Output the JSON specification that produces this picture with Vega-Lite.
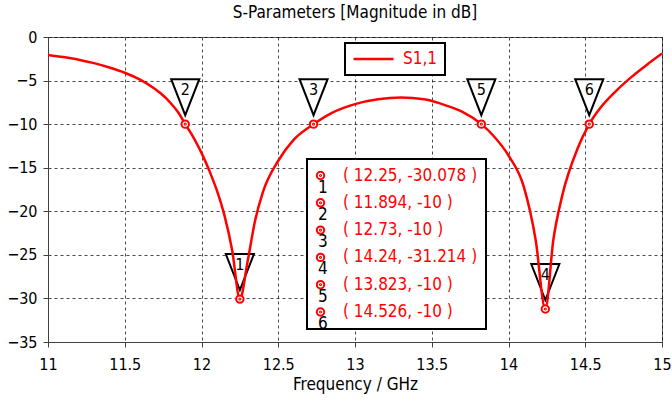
{
  "$schema": "https://vega.github.io/schema/vega-lite/v6.json",
  "width": 614,
  "height": 305,
  "autosize": "none",
  "padding": {"left": 48, "top": 37, "right": 10, "bottom": 61},
  "background": "white",
  "title": {"text": "S-Parameters [Magnitude in dB]", "font": "DejaVu Sans Condensed, Liberation Sans", "fontSize": 17, "fontWeight": "normal", "color": "#000", "offset": 7, "anchor": "middle"},
  "config": {
    "view": {"stroke": "#606060", "strokeWidth": 1},
    "axis": {
      "labelFont": "DejaVu Sans Condensed, Liberation Sans", "labelFontSize": 16, "labelColor": "#000",
      "titleFont": "DejaVu Sans Condensed, Liberation Sans", "titleFontSize": 17, "titleFontWeight": "normal", "titleColor": "#000",
      "domainColor": "#404040", "tickColor": "#404040", "tickSize": 5,
      "gridColor": "#000", "gridDash": [3, 3], "gridOpacity": 0.7, "gridWidth": 1
    },
    "legend": {"strokeWidth": 2, "labelFont": "DejaVu Sans Condensed, Liberation Sans"}
  },
  "datasets": {
    "curve": [
      {"f": 11.0, "s11": -2.05, "series": "S1,1"},
      {"f": 11.1, "s11": -2.3, "series": "S1,1"},
      {"f": 11.2, "s11": -2.6, "series": "S1,1"},
      {"f": 11.3, "s11": -3.0, "series": "S1,1"},
      {"f": 11.4, "s11": -3.5, "series": "S1,1"},
      {"f": 11.5, "s11": -4.1, "series": "S1,1"},
      {"f": 11.6, "s11": -4.9, "series": "S1,1"},
      {"f": 11.7, "s11": -6.0, "series": "S1,1"},
      {"f": 11.73, "s11": -6.4, "series": "S1,1"},
      {"f": 11.8, "s11": -7.6, "series": "S1,1"},
      {"f": 11.85, "s11": -8.7, "series": "S1,1"},
      {"f": 11.894, "s11": -10.0, "series": "S1,1"},
      {"f": 11.95, "s11": -11.6, "series": "S1,1"},
      {"f": 12.0, "s11": -13.3, "series": "S1,1"},
      {"f": 12.05, "s11": -15.3, "series": "S1,1"},
      {"f": 12.1, "s11": -17.6, "series": "S1,1"},
      {"f": 12.15, "s11": -20.5, "series": "S1,1"},
      {"f": 12.2, "s11": -24.5, "series": "S1,1"},
      {"f": 12.25, "s11": -30.078, "series": "S1,1"},
      {"f": 12.3, "s11": -25.8, "series": "S1,1"},
      {"f": 12.35, "s11": -21.0, "series": "S1,1"},
      {"f": 12.4, "s11": -17.8, "series": "S1,1"},
      {"f": 12.5, "s11": -14.2, "series": "S1,1"},
      {"f": 12.6, "s11": -11.8, "series": "S1,1"},
      {"f": 12.73, "s11": -10.0, "series": "S1,1"},
      {"f": 12.85, "s11": -8.7, "series": "S1,1"},
      {"f": 13.0, "s11": -7.7, "series": "S1,1"},
      {"f": 13.15, "s11": -7.15, "series": "S1,1"},
      {"f": 13.3, "s11": -6.95, "series": "S1,1"},
      {"f": 13.45, "s11": -7.15, "series": "S1,1"},
      {"f": 13.6, "s11": -7.9, "series": "S1,1"},
      {"f": 13.7, "s11": -8.6, "series": "S1,1"},
      {"f": 13.823, "s11": -10.0, "series": "S1,1"},
      {"f": 13.9, "s11": -11.3, "series": "S1,1"},
      {"f": 14.0, "s11": -13.6, "series": "S1,1"},
      {"f": 14.1, "s11": -17.2, "series": "S1,1"},
      {"f": 14.177, "s11": -23.3, "series": "S1,1"},
      {"f": 14.24, "s11": -31.214, "series": "S1,1"},
      {"f": 14.292, "s11": -23.3, "series": "S1,1"},
      {"f": 14.35, "s11": -18.2, "series": "S1,1"},
      {"f": 14.45, "s11": -12.8, "series": "S1,1"},
      {"f": 14.526, "s11": -10.0, "series": "S1,1"},
      {"f": 14.6, "s11": -8.1, "series": "S1,1"},
      {"f": 14.7, "s11": -6.2, "series": "S1,1"},
      {"f": 14.8, "s11": -4.6, "series": "S1,1"},
      {"f": 14.9, "s11": -3.2, "series": "S1,1"},
      {"f": 15.0, "s11": -1.9, "series": "S1,1"}
    ],
    "markers": [
      {"id": 1, "f": 12.25, "s11": -30.078, "coord": "( 12.25, -30.078 )"},
      {"id": 2, "f": 11.894, "s11": -10, "coord": "( 11.894, -10 )"},
      {"id": 3, "f": 12.73, "s11": -10, "coord": "( 12.73, -10 )"},
      {"id": 4, "f": 14.24, "s11": -31.214, "coord": "( 14.24, -31.214 )"},
      {"id": 5, "f": 13.823, "s11": -10, "coord": "( 13.823, -10 )"},
      {"id": 6, "f": 14.526, "s11": -10, "coord": "( 14.526, -10 )"}
    ]
  },
  "layer": [
    {
      "data": {"name": "markers"},
      "mark": {"type": "point", "shape": "M-0.78,-1L0.78,-1L0,1Z", "size": 1296, "yOffset": -27, "stroke": "#000", "strokeWidth": 2, "fill": "#fff", "fillOpacity": 1, "filled": true, "opacity": 1},
      "encoding": {
        "x": {"field": "f", "type": "quantitative", "scale": {"domain": [11, 15], "nice": false, "zero": false},
          "axis": {"values": [11, 11.5, 12, 12.5, 13, 13.5, 14, 14.5, 15], "format": "~g", "title": "Frequency / GHz", "labelPadding": 9, "titlePadding": 4, "labelFlush": false, "labelOverlap": false}},
        "y": {"field": "s11", "type": "quantitative", "scale": {"domain": [-35, 0], "nice": false, "zero": false},
          "axis": {"values": [0, -5, -10, -15, -20, -25, -30, -35], "title": null, "labelPadding": 6, "labelOverlap": false, "labelFlush": false}}
      }
    },
    {
      "data": {"name": "curve"},
      "mark": {"type": "line", "strokeWidth": 2.5, "interpolate": "monotone", "clip": true},
      "encoding": {
        "x": {"field": "f", "type": "quantitative"},
        "y": {"field": "s11", "type": "quantitative"},
        "stroke": {"field": "series", "type": "nominal", "scale": {"domain": ["S1,1"], "range": ["#ff0000"]},
          "legend": {"orient": "none", "legendX": 297, "legendY": 6, "title": null, "strokeColor": "#000", "fillColor": "#fff", "padding": 7, "symbolType": "stroke", "symbolSize": 1600, "symbolStrokeWidth": 2.5, "labelFontSize": 17, "labelColor": "#ff0000", "labelOffset": 8, "clipHeight": 18}}
      }
    },
    {
      "data": {"name": "markers"},
      "mark": {"type": "point", "size": 55, "strokeWidth": 2, "filled": true, "stroke": "#ff0000", "opacity": 1, "fillOpacity": 1, "strokeOpacity": 1,
        "shape": "M-1,0A1,1 0 1,0 1,0A1,1 0 1,0 -1,0ZM-0.15,0A0.15,0.15 0 1,0 0.15,0A0.15,0.15 0 1,0 -0.15,0Z"},
      "encoding": {
        "x": {"field": "f", "type": "quantitative"},
        "y": {"field": "s11", "type": "quantitative"},
        "fill": {"field": "coord", "type": "nominal", "sort": {"field": "id"}, "scale": {"range": ["#ffffff"]},
          "legend": {"orient": "none", "legendX": 259, "legendY": 122, "title": null, "strokeColor": "#000", "fillColor": "#fff", "padding": 8, "symbolType": "M-1,0A1,1 0 1,0 1,0A1,1 0 1,0 -1,0ZM-0.15,0A0.15,0.15 0 1,0 0.15,0A0.15,0.15 0 1,0 -0.15,0Z", "symbolSize": 55, "symbolStrokeColor": "#ff0000", "symbolStrokeWidth": 2, "symbolOffset": -3, "labelFontSize": 17, "labelColor": "#ff0000", "labelOffset": 14, "rowPadding": 9.3, "clipHeight": 17}}
      }
    },
    {
      "data": {"name": "markers"},
      "mark": {"type": "text", "fontSize": 16, "yOffset": -34, "baseline": "middle", "align": "center", "font": "DejaVu Sans Condensed, Liberation Sans"},
      "encoding": {
        "x": {"field": "f", "type": "quantitative"},
        "y": {"field": "s11", "type": "quantitative"},
        "text": {"field": "id", "type": "nominal"},
        "color": {"field": "id", "type": "nominal", "scale": {"range": ["#000000"]},
          "legend": {"orient": "none", "legendX": 251, "legendY": 142, "title": null, "padding": 0, "symbolOpacity": 0, "symbolSize": 4, "labelOffset": 2, "labelFontSize": 17, "labelColor": "#000", "rowPadding": 9.3, "clipHeight": 17, "strokeColor": null, "fillColor": null}}
      }
    }
  ]
}
